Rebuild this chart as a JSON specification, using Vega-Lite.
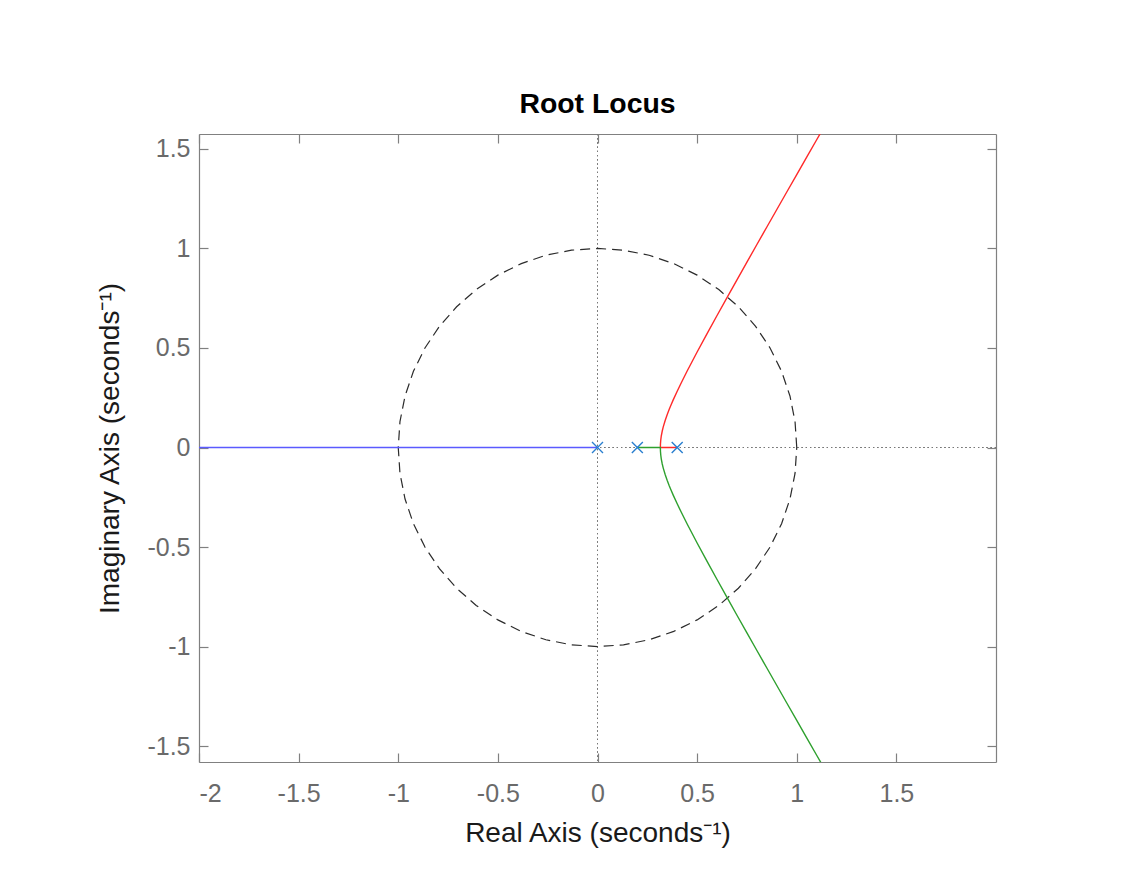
{
  "$schema": "https://vega.github.io/schema/vega-lite/v6.json",
  "autosize": {"type": "none"},
  "width": 797,
  "height": 628,
  "padding": {"left": 199, "top": 134, "right": 125, "bottom": 108},
  "background": "white",
  "config": {
    "view": {"stroke": null},
    "font": "Liberation Sans",
    "axis": {
      "grid": false,
      "domainColor": "#808080",
      "tickColor": "#808080",
      "labelColor": "#6a6a6a",
      "labelFont": "Liberation Sans",
      "labelFontSize": 25,
      "titleFont": "Liberation Sans",
      "titleFontSize": 28,
      "titleFontWeight": "normal",
      "titleColor": "#1a1a1a",
      "tickSize": -9,
      "domainWidth": 1.2,
      "tickWidth": 1.2
    }
  },
  "title": {
    "text": "Root Locus",
    "fontSize": 28.4,
    "fontWeight": "bold",
    "color": "#000000",
    "font": "Liberation Sans",
    "offset": 14
  },
  "datasets": {
    "locus": [
      {"branch": "blue", "o": 0, "x": -2.1, "y": 0},
      {"branch": "blue", "o": 1, "x": 0, "y": 0},
      {"branch": "red", "o": 0, "x": 0.4, "y": 0},
      {"branch": "red", "o": 1, "x": 0.3155, "y": 0},
      {"branch": "red", "o": 2, "x": 0.316, "y": 0.0192},
      {"branch": "red", "o": 3, "x": 0.3175, "y": 0.0377},
      {"branch": "red", "o": 4, "x": 0.32, "y": 0.0566},
      {"branch": "red", "o": 5, "x": 0.325, "y": 0.0829},
      {"branch": "red", "o": 6, "x": 0.33, "y": 0.1034},
      {"branch": "red", "o": 7, "x": 0.34, "y": 0.1371},
      {"branch": "red", "o": 8, "x": 0.35, "y": 0.1658},
      {"branch": "red", "o": 9, "x": 0.36, "y": 0.1918},
      {"branch": "red", "o": 10, "x": 0.37, "y": 0.2161},
      {"branch": "red", "o": 11, "x": 0.38, "y": 0.2392},
      {"branch": "red", "o": 12, "x": 0.4, "y": 0.2828},
      {"branch": "red", "o": 13, "x": 0.42, "y": 0.3243},
      {"branch": "red", "o": 14, "x": 0.45, "y": 0.3841},
      {"branch": "red", "o": 15, "x": 0.5, "y": 0.4796},
      {"branch": "red", "o": 16, "x": 0.55, "y": 0.5723},
      {"branch": "red", "o": 17, "x": 0.6, "y": 0.6633},
      {"branch": "red", "o": 18, "x": 0.65, "y": 0.7533},
      {"branch": "red", "o": 19, "x": 0.7, "y": 0.8426},
      {"branch": "red", "o": 20, "x": 0.75, "y": 0.9314},
      {"branch": "red", "o": 21, "x": 0.8, "y": 1.0198},
      {"branch": "red", "o": 22, "x": 0.85, "y": 1.1079},
      {"branch": "red", "o": 23, "x": 0.9, "y": 1.1958},
      {"branch": "red", "o": 24, "x": 0.95, "y": 1.2836},
      {"branch": "red", "o": 25, "x": 1.0, "y": 1.3711},
      {"branch": "red", "o": 26, "x": 1.05, "y": 1.4586},
      {"branch": "red", "o": 27, "x": 1.1, "y": 1.546},
      {"branch": "red", "o": 28, "x": 1.13, "y": 1.5984},
      {"branch": "green", "o": 0, "x": 0.2, "y": 0},
      {"branch": "green", "o": 1, "x": 0.3155, "y": 0},
      {"branch": "green", "o": 2, "x": 0.316, "y": -0.0192},
      {"branch": "green", "o": 3, "x": 0.3175, "y": -0.0377},
      {"branch": "green", "o": 4, "x": 0.32, "y": -0.0566},
      {"branch": "green", "o": 5, "x": 0.325, "y": -0.0829},
      {"branch": "green", "o": 6, "x": 0.33, "y": -0.1034},
      {"branch": "green", "o": 7, "x": 0.34, "y": -0.1371},
      {"branch": "green", "o": 8, "x": 0.35, "y": -0.1658},
      {"branch": "green", "o": 9, "x": 0.36, "y": -0.1918},
      {"branch": "green", "o": 10, "x": 0.37, "y": -0.2161},
      {"branch": "green", "o": 11, "x": 0.38, "y": -0.2392},
      {"branch": "green", "o": 12, "x": 0.4, "y": -0.2828},
      {"branch": "green", "o": 13, "x": 0.42, "y": -0.3243},
      {"branch": "green", "o": 14, "x": 0.45, "y": -0.3841},
      {"branch": "green", "o": 15, "x": 0.5, "y": -0.4796},
      {"branch": "green", "o": 16, "x": 0.55, "y": -0.5723},
      {"branch": "green", "o": 17, "x": 0.6, "y": -0.6633},
      {"branch": "green", "o": 18, "x": 0.65, "y": -0.7533},
      {"branch": "green", "o": 19, "x": 0.7, "y": -0.8426},
      {"branch": "green", "o": 20, "x": 0.75, "y": -0.9314},
      {"branch": "green", "o": 21, "x": 0.8, "y": -1.0198},
      {"branch": "green", "o": 22, "x": 0.85, "y": -1.1079},
      {"branch": "green", "o": 23, "x": 0.9, "y": -1.1958},
      {"branch": "green", "o": 24, "x": 0.95, "y": -1.2836},
      {"branch": "green", "o": 25, "x": 1.0, "y": -1.3711},
      {"branch": "green", "o": 26, "x": 1.05, "y": -1.4586},
      {"branch": "green", "o": 27, "x": 1.1, "y": -1.546},
      {"branch": "green", "o": 28, "x": 1.13, "y": -1.5984}
    ],
    "circle": [
      {"o": 0, "x": 1.0, "y": 0.0},
      {"o": 1, "x": 0.9914, "y": 0.1305},
      {"o": 2, "x": 0.9659, "y": 0.2588},
      {"o": 3, "x": 0.9239, "y": 0.3827},
      {"o": 4, "x": 0.866, "y": 0.5},
      {"o": 5, "x": 0.7934, "y": 0.6088},
      {"o": 6, "x": 0.7071, "y": 0.7071},
      {"o": 7, "x": 0.6088, "y": 0.7934},
      {"o": 8, "x": 0.5, "y": 0.866},
      {"o": 9, "x": 0.3827, "y": 0.9239},
      {"o": 10, "x": 0.2588, "y": 0.9659},
      {"o": 11, "x": 0.1305, "y": 0.9914},
      {"o": 12, "x": 0.0, "y": 1.0},
      {"o": 13, "x": -0.1305, "y": 0.9914},
      {"o": 14, "x": -0.2588, "y": 0.9659},
      {"o": 15, "x": -0.3827, "y": 0.9239},
      {"o": 16, "x": -0.5, "y": 0.866},
      {"o": 17, "x": -0.6088, "y": 0.7934},
      {"o": 18, "x": -0.7071, "y": 0.7071},
      {"o": 19, "x": -0.7934, "y": 0.6088},
      {"o": 20, "x": -0.866, "y": 0.5},
      {"o": 21, "x": -0.9239, "y": 0.3827},
      {"o": 22, "x": -0.9659, "y": 0.2588},
      {"o": 23, "x": -0.9914, "y": 0.1305},
      {"o": 24, "x": -1.0, "y": 0.0},
      {"o": 25, "x": -0.9914, "y": -0.1305},
      {"o": 26, "x": -0.9659, "y": -0.2588},
      {"o": 27, "x": -0.9239, "y": -0.3827},
      {"o": 28, "x": -0.866, "y": -0.5},
      {"o": 29, "x": -0.7934, "y": -0.6088},
      {"o": 30, "x": -0.7071, "y": -0.7071},
      {"o": 31, "x": -0.6088, "y": -0.7934},
      {"o": 32, "x": -0.5, "y": -0.866},
      {"o": 33, "x": -0.3827, "y": -0.9239},
      {"o": 34, "x": -0.2588, "y": -0.9659},
      {"o": 35, "x": -0.1305, "y": -0.9914},
      {"o": 36, "x": 0.0, "y": -1.0},
      {"o": 37, "x": 0.1305, "y": -0.9914},
      {"o": 38, "x": 0.2588, "y": -0.9659},
      {"o": 39, "x": 0.3827, "y": -0.9239},
      {"o": 40, "x": 0.5, "y": -0.866},
      {"o": 41, "x": 0.6088, "y": -0.7934},
      {"o": 42, "x": 0.7071, "y": -0.7071},
      {"o": 43, "x": 0.7934, "y": -0.6088},
      {"o": 44, "x": 0.866, "y": -0.5},
      {"o": 45, "x": 0.9239, "y": -0.3827},
      {"o": 46, "x": 0.9659, "y": -0.2588},
      {"o": 47, "x": 0.9914, "y": -0.1305},
      {"o": 48, "x": 1.0, "y": 0.0}
    ],
    "poles": [
      {"x": 0, "y": 0},
      {"x": 0.2, "y": 0},
      {"x": 0.4, "y": 0}
    ]
  },
  "resolve": {"axis": {"x": "independent", "y": "independent"}},
  "layer": [
    {
      "data": {"name": "poles"},
      "mark": {"type": "rule", "color": "#777777", "strokeWidth": 1, "strokeDash": [1.2, 3]},
      "encoding": {"x": {"datum": 0, "type": "quantitative", "scale": {"domain": [-2, 2], "nice": false, "zero": false}, "axis": null}}
    },
    {
      "data": {"name": "poles"},
      "mark": {"type": "rule", "color": "#777777", "strokeWidth": 1, "strokeDash": [1.2, 3]},
      "encoding": {"y": {"datum": 0, "type": "quantitative", "scale": {"domain": [-1.58, 1.575], "nice": false, "zero": false}, "axis": null}}
    },
    {
      "data": {"name": "circle"},
      "mark": {"type": "line", "color": "#2b2b2b", "strokeWidth": 1.2, "strokeDash": [10, 6], "clip": true},
      "encoding": {
        "x": {"field": "x", "type": "quantitative", "scale": {"domain": [-2, 2], "nice": false, "zero": false},
          "axis": {"orient": "bottom", "values": [-2, -1.5, -1, -0.5, 0, 0.5, 1, 1.5], "labelExpr": "datum.value < 0 ? '-' + format(-datum.value, '~g') : format(datum.value, '~g')", "title": "Real Axis (seconds⁻¹)", "labelPadding": 28, "titlePadding": 13}},
        "y": {"field": "y", "type": "quantitative", "scale": {"domain": [-1.58, 1.575], "nice": false, "zero": false},
          "axis": {"orient": "left", "values": [-1.5, -1, -0.5, 0, 0.5, 1, 1.5], "labelExpr": "datum.value < 0 ? '-' + format(-datum.value, '~g') : format(datum.value, '~g')", "title": "Imaginary Axis (seconds⁻¹)", "labelPadding": 18, "titlePadding": 22}},
        "order": {"field": "o"}
      }
    },
    {
      "data": {"name": "locus"},
      "mark": {"type": "line", "strokeWidth": 1.4, "clip": true},
      "encoding": {
        "x": {"field": "x", "type": "quantitative", "scale": {"domain": [-2, 2], "nice": false, "zero": false},
          "axis": {"orient": "top", "values": [-2, -1.5, -1, -0.5, 0, 0.5, 1, 1.5], "labels": false, "title": null}},
        "y": {"field": "y", "type": "quantitative", "scale": {"domain": [-1.58, 1.575], "nice": false, "zero": false},
          "axis": {"orient": "right", "values": [-1.5, -1, -0.5, 0, 0.5, 1, 1.5], "labels": false, "title": null}},
        "color": {"field": "branch", "type": "nominal", "scale": {"domain": ["blue", "red", "green"], "range": ["#5a5aff", "#ff2a2a", "#2ea02e"]}, "legend": null},
        "detail": {"field": "branch"},
        "order": {"field": "o"}
      }
    },
    {
      "data": {"name": "poles"},
      "mark": {"type": "point", "shape": "M-1,-1L1,1M-1,1L1,-1", "filled": false, "size": 121, "strokeWidth": 1.4, "color": "#2a7fcf", "opacity": 1},
      "encoding": {
        "x": {"field": "x", "type": "quantitative", "scale": {"domain": [-2, 2], "nice": false, "zero": false}, "axis": null},
        "y": {"field": "y", "type": "quantitative", "scale": {"domain": [-1.58, 1.575], "nice": false, "zero": false}, "axis": null}
      }
    }
  ]
}
